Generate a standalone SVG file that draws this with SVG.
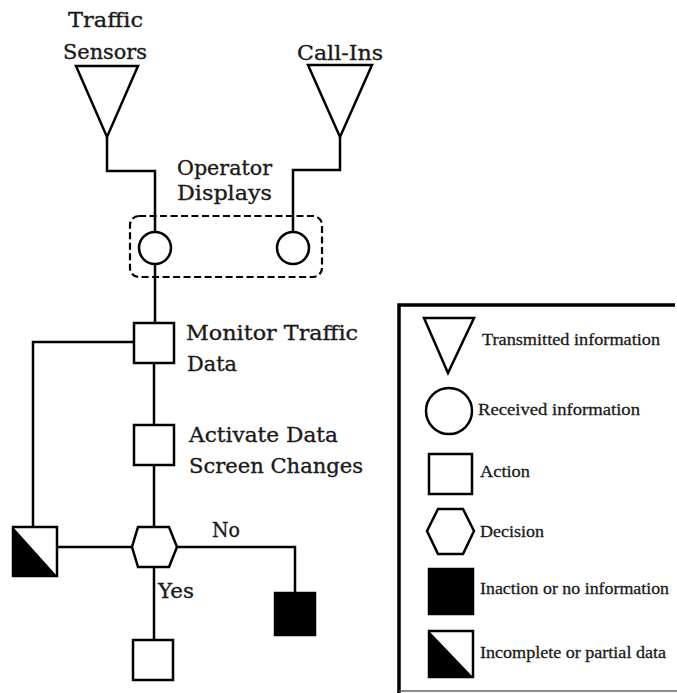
<svg xmlns="http://www.w3.org/2000/svg" width="677" height="693" viewBox="0 0 677 693">
<style>
.ln{fill:none;stroke:#000;stroke-width:2.5;stroke-linejoin:miter}
.sh{fill:#fff;stroke:#000;stroke-width:2.5}
.blk{fill:#000;stroke:#000;stroke-width:2.5}
.t{font-family:"DejaVu Serif","Liberation Serif",serif;font-size:21px;fill:#1a1a1a;stroke:#1a1a1a;stroke-width:0.35}
.lt{font-family:"Liberation Serif","DejaVu Serif",serif;font-size:17px;fill:#1a1a1a;stroke:#1a1a1a;stroke-width:0.3}
</style>
<rect width="677" height="693" fill="#fff"/>
<g id="connectors">
<path class="ln" d="M107,137 V171 H155 V232"/>
<path class="ln" d="M340,137 V170 H293 V232"/>
<path class="ln" d="M155,263 V323"/>
<path class="ln" d="M154,363 V425"/>
<path class="ln" d="M154,465 V527"/>
<path class="ln" d="M134,342 H33 V527"/>
<path class="ln" d="M57,547 H132"/>
<path class="ln" d="M177,547 H295 V593"/>
<path class="ln" d="M154,567 V640"/>
</g>
<g id="operator-displays">
<rect x="130" y="216" width="192" height="61" rx="9" fill="none" stroke="#000" stroke-width="2.2" stroke-dasharray="7,3.5"/>
<text class="t" x="177" y="175" textLength="95" lengthAdjust="spacingAndGlyphs">Operator</text>
<text class="t" x="177" y="200" textLength="95" lengthAdjust="spacingAndGlyphs">Displays</text>
</g>
<g id="traffic-sensors">
<polygon class="sh" points="76,66 138,66 107,137"/>
<text class="t" x="68" y="27" textLength="75" lengthAdjust="spacingAndGlyphs">Traffic</text>
<text class="t" x="63" y="59" textLength="84" lengthAdjust="spacingAndGlyphs">Sensors</text>
</g>
<g id="call-ins">
<polygon class="sh" points="308,65 372,65 340,137"/>
<text class="t" x="297" y="60" textLength="86" lengthAdjust="spacingAndGlyphs">Call-Ins</text>
</g>
<g id="display-1">
<circle class="sh" cx="155" cy="248" r="16"/>
</g>
<g id="display-2">
<circle class="sh" cx="293" cy="248" r="16"/>
</g>
<g id="monitor">
<rect class="sh" x="134" y="323" width="40" height="40"/>
<text class="t" x="186" y="340" textLength="172" lengthAdjust="spacingAndGlyphs">Monitor Traffic</text>
<text class="t" x="187" y="371" textLength="50" lengthAdjust="spacingAndGlyphs">Data</text>
</g>
<g id="activate">
<rect class="sh" x="134" y="425" width="40" height="40"/>
<text class="t" x="189" y="442" textLength="149" lengthAdjust="spacingAndGlyphs">Activate Data</text>
<text class="t" x="189" y="473" textLength="174" lengthAdjust="spacingAndGlyphs">Screen Changes</text>
</g>
<g id="decision">
<polygon class="sh" points="138,527 169,527 177,547 169,567 138,567 132,547"/>
<text class="t" x="212" y="537" textLength="28" lengthAdjust="spacingAndGlyphs">No</text>
<text class="t" x="158" y="598" textLength="36" lengthAdjust="spacingAndGlyphs">Yes</text>
</g>
<g id="partial">
<rect class="sh" x="13" y="527" width="44" height="49"/>
<polygon points="13,527 57,576 13,576" fill="#000"/>
</g>
<g id="inaction">
<rect class="blk" x="275" y="593" width="40" height="42"/>
</g>
<g id="action-yes">
<rect class="sh" x="133" y="640" width="40" height="40"/>
</g>
<g id="legend">
<path d="M675,305 H399 V693" fill="none" stroke="#000" stroke-width="3.5"/>
<line x1="399" y1="691" x2="677" y2="691" stroke="#666" stroke-width="1.5"/>
<polygon class="sh" points="424,318 474,318 448,373"/>
<text class="lt" x="482" y="345" textLength="178" lengthAdjust="spacingAndGlyphs">Transmitted information</text>
<circle class="sh" cx="449" cy="411" r="23"/>
<text class="lt" x="478" y="415" textLength="162" lengthAdjust="spacingAndGlyphs">Received information</text>
<rect class="sh" x="429" y="454" width="43" height="40"/>
<text class="lt" x="480" y="477" textLength="50" lengthAdjust="spacingAndGlyphs">Action</text>
<polygon class="sh" points="438,509 463,509 474,531 463,554 438,554 427,531"/>
<text class="lt" x="480" y="537" textLength="64" lengthAdjust="spacingAndGlyphs">Decision</text>
<rect class="blk" x="429" y="569" width="44" height="45"/>
<text class="lt" x="480" y="594" textLength="189" lengthAdjust="spacingAndGlyphs">Inaction or no information</text>
<rect class="sh" x="429" y="631" width="44" height="46"/>
<polygon points="429,631 473,677 429,677" fill="#000"/>
<text class="lt" x="480" y="658" textLength="186" lengthAdjust="spacingAndGlyphs">Incomplete or partial data</text>
</g>
</svg>
